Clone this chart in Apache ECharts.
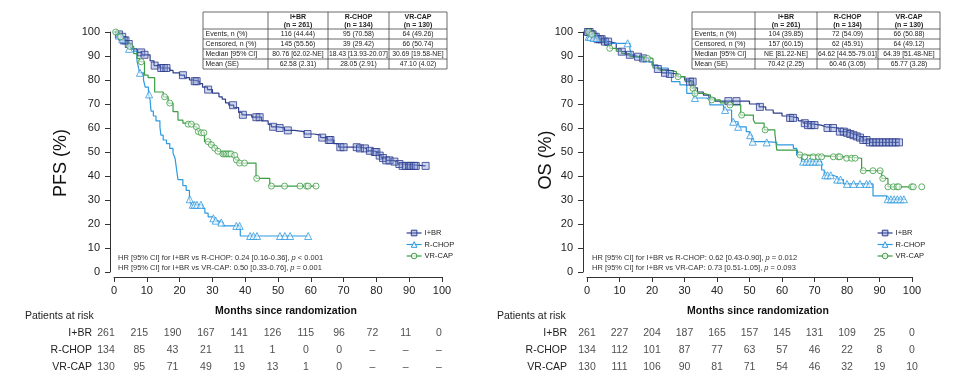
<!DOCTYPE html>
<html><head><meta charset="utf-8">
<script src="https://cdn.jsdelivr.net/npm/echarts@6/dist/echarts.min.js"></script>
<style>html,body{margin:0;padding:0;background:#fff}#c{width:973px;height:381px}</style>
</head><body><div id="c"></div>
<script>
// ---------------- DATA ----------------
const groups = ['I+BR', 'R-CHOP', 'VR-CAP'];
const riskMonths = [0, 10, 20, 30, 40, 50, 60, 70, 80, 90, 100];
const yTicks = [0, 10, 20, 30, 40, 50, 60, 70, 80, 90, 100];

// PFS Kaplan-Meier steps [month, survival %]
const pfsIBR = [[0,100],[1,99],[2,98],[3,96.5],[4,95],[5,93],[7,91.5],[8.5,90.5],[11,88],[12.2,86],[14,85],[17,84],[18,83],[20,82],[21.5,81],[23,80],[24,79.5],[26,78.5],[27,77],[28.5,76],[30,74.5],[32,73],[33,72],[34,70.5],[35,69.5],[36.5,68.5],[38,66.5],[39,65.5],[42,64.5],[45,63],[47,61.5],[48,60.5],[50,60],[52,59],[55,58.5],[58,57.5],[61,57],[63,56],[65,55],[67,53.5],[68.5,52],[75,51.5],[77,50.5],[79,50],[80.5,48.5],[81.5,47.5],[83,46.5],[85,46],[86.5,45],[88,44.2],[95,44.2]];
const pfsRCHOP = [[0,100],[1,98.5],[2,97],[3,95.5],[4.5,93],[6,92],[7,88],[7.5,85],[7.8,83],[9,80],[9.5,77],[10.5,74],[11,71.7],[11.3,67],[12,65],[12.8,63],[14,60.4],[14.3,57],[15,55],[16,53.5],[17,51.5],[18,49.5],[18.6,47.5],[19,43.5],[19.5,38.5],[21,36],[22,34],[23,30.3],[23.6,28],[27,26.5],[27.7,24.5],[28.7,23],[30.2,22.4],[30.7,21.4],[31.5,20.6],[33.2,19.2],[38.5,15],[59.2,15]];
const pfsVRCAP = [[0,100],[1.5,98],[3,96],[4.3,94],[6,91],[7,89],[7.8,87.6],[9.3,82],[10.4,81],[12.4,75],[15,73],[16.5,70.4],[18,66.8],[19.5,63.3],[21,62],[22.5,61.6],[24.5,60.5],[25.3,59.4],[25.6,58.5],[26.3,58],[27.6,54.3],[29.5,53],[30.5,51.6],[31.5,50.3],[33,49.2],[36.5,48.6],[37,46.7],[38,45.4],[43.3,39],[47.5,35.8],[61.6,35.8]];
// PFS censoring times (months)
const pfsIBRCens = [1.5,2.5,3,3.5,4.5,8.3,9.3,12.4,14.4,15.2,16,21,24.6,25.2,28.7,36.3,39.3,43.4,44.4,48.5,50.5,53,59,63.5,65.5,66,69,70,74,75,76.5,78,79.5,80,81,82,83,84,85.5,87,88,89,90,90.5,91.5,92,95];
const pfsRCHOPCens = [1.5,2.5,4.6,7.9,10.7,23.1,24,24.6,25.3,26.5,30.3,31,32.7,37.3,38.3,41.5,42.5,43.6,50.6,52.1,53.7,59.2];
const pfsVRCAPCens = [0.5,2,4.8,8.3,15.4,17,22.6,23.6,25.1,25.7,26.6,27.4,28.7,29.7,30.7,31.7,33.2,33.7,34.2,34.7,35.2,35.7,36.8,37.3,38.3,39.8,43.5,48,52,56.7,58.7,59.2,61.6];

// OS Kaplan-Meier steps [month, survival %]
const osIBR = [[0,100],[1,99],[2,98],[3,97],[5,96],[7,95.3],[9,93],[10.5,91.8],[12,90.5],[13.5,89.7],[16,89],[19,87.5],[20.3,86.2],[21.8,84.6],[23,83],[25,82.5],[28,81.4],[30,80],[31.5,79.3],[32.8,76.7],[34,75],[35.8,73.7],[37.5,72.5],[39.4,71.2],[50,70],[53,68.8],[55,67.5],[57.3,66.2],[60,65],[62,64.2],[65,63],[66.5,62],[67.5,61.2],[72,60.5],[73.5,60],[77.5,58.5],[80,58],[81,57.5],[82,57],[83,56.5],[84,56],[85,55],[87,54],[96,54]];
const osRCHOP = [[0,100],[0.5,98],[1.5,97.5],[4,96.7],[6,95.3],[13.2,93],[13.7,90.4],[15,89.5],[17.3,87.6],[20,86],[21.8,85],[25,83],[26,79.3],[28.6,78],[30.7,74.4],[33,72.5],[36.8,71.7],[37.8,69.6],[42,67.5],[44.5,62.6],[46.5,60.5],[49,58.5],[50,57],[50.7,54.3],[55,54],[58.4,53],[63.5,51.5],[64.5,48.8],[66,46],[72.2,42.5],[73,40.3],[75.7,39.7],[77,38.5],[78.9,36.7],[88,31.7],[92.2,30.3],[98,30.3]];
const osVRCAP = [[0,100],[1,99],[2,97.5],[4,96],[5.5,94.5],[7,93.2],[9,92],[10.7,91],[13.2,89.7],[16,89],[20.3,85],[22.5,84],[25.5,83.5],[27.5,81.4],[30.2,79.3],[32.3,76.5],[33,74.4],[35.8,73.7],[38,71.7],[41,70.5],[43.5,69.6],[47.3,65.4],[51.2,63.3],[51.7,62],[54.5,59.2],[57.8,57.8],[58.4,50.8],[64.8,48.8],[66,48],[79.5,47.4],[84.5,42.2],[90.7,39],[92.6,35.5],[103,35.5]];
const osIBRCens = [0.3,0.8,1.3,1.7,2.2,2.7,3.3,4,4.5,5.5,6.5,10.7,13.2,15.7,17.3,21.8,24,25.5,31.7,32.5,43.5,46,53.2,62.5,63.4,67,68,69,70,74,75.7,77.8,79,80,81,82,83,84,85,86,87,88,89,90,91,92,93,94,95,96];
const osRCHOPCens = [0.5,1,2,3,12.5,33.2,42.5,45,46.5,50.2,51,55.3,66.5,67.5,68.5,69.5,70.5,71.5,73.3,74,75,77,78,80,82,84,86,87,92.5,93.5,94.5,95.5,96.5,97.5];
const osVRCAPCens = [0.5,1.5,7,18.6,28,32.6,33.2,38.4,44,47.6,54.8,65.5,67,69.6,71.2,72.2,75.8,77.3,77.8,79.9,81.4,82.5,85,88,90.2,91,92.6,94.3,95.4,95.9,99.9,100.4,103];

// Patients at risk
const pfsRiskIBR = ['261','215','190','167','141','126','115','96','72','11','0'];
const pfsRiskRCHOP = ['134','85','43','21','11','1','0','0','–','–','–'];
const pfsRiskVRCAP = ['130','95','71','49','19','13','1','0','–','–','–'];
const osRiskIBR = ['261','227','204','187','165','157','145','131','109','25','0'];
const osRiskRCHOP = ['134','112','101','87','77','63','57','46','22','8','0'];
const osRiskVRCAP = ['130','111','106','90','81','71','54','46','32','19','10'];

// Summary tables
const tableHeaders = ['I+BR\n(n = 261)', 'R-CHOP\n(n = 134)', 'VR-CAP\n(n = 130)'];
const tableRowLabels = ['Events, n (%)', 'Censored, n (%)', 'Median [95% CI]', 'Mean (SE)'];
const pfsTable = [
  ['116 (44.44)', '95 (70.58)', '64 (49.26)'],
  ['145 (55.56)', '39 (29.42)', '66 (50.74)'],
  ['80.76 [62.02-NE]', '18.43 [13.93-20.07]', '30.69 [19.58-NE]'],
  ['62.58 (2.31)', '28.05 (2.91)', '47.10 (4.02)']
];
const osTable = [
  ['104 (39.85)', '72 (54.09)', '66 (50.88)'],
  ['157 (60.15)', '62 (45.91)', '64 (49.12)'],
  ['NE [81.22-NE]', '64.62 [44.55-79.01]', '64.39 [51.48-NE]'],
  ['70.42 (2.25)', '60.46 (3.05)', '65.77 (3.28)']
];
const pfsHR = [
  ['HR [95% CI] for I+BR vs R-CHOP: 0.24 [0.16-0.36], ', ' < 0.001'],
  ['HR [95% CI] for I+BR vs VR-CAP: 0.50 [0.33-0.76], ', ' = 0.001']
];
const osHR = [
  ['HR [95% CI] for I+BR vs R-CHOP: 0.62 [0.43-0.90], ', ' = 0.012'],
  ['HR [95% CI] for I+BR vs VR-CAP: 0.73 [0.51-1.05], ', ' = 0.093']
];

// ---------------- STYLE ----------------
const FONT = 'Liberation Sans, Arial, Helvetica, sans-serif';
const colors = ['#2e3d8d', '#2e9ae0', '#3c9c44'];
const fills = ['rgba(120,140,205,0.45)', 'rgba(255,255,255,0.7)', 'rgba(255,255,255,0.7)'];
const symbols = ['rect', 'triangle', 'circle'];
const symSizes = [7, 7, 6];

function onCurve(steps, times) {
  return times.map(t => {
    let y = steps[0][1];
    for (const p of steps) { if (p[0] <= t + 1e-9) y = p[1]; else break; }
    return [t, y];
  });
}

const panels = [
  {curves: [pfsIBR, pfsRCHOP, pfsVRCAP], cens: [pfsIBRCens, pfsRCHOPCens, pfsVRCAPCens],
   risk: [pfsRiskIBR, pfsRiskRCHOP, pfsRiskVRCAP]},
  {curves: [osIBR, osRCHOP, osVRCAP], cens: [osIBRCens, osRCHOPCens, osVRCAPCens],
   risk: [osRiskIBR, osRiskRCHOP, osRiskVRCAP]}
];

const series = [];
panels.forEach((pn, p) => {
  groups.forEach((g, i) => {
    series.push({
      name: g, type: 'line', step: 'end', xAxisIndex: p, yAxisIndex: p,
      data: pn.curves[i], showSymbol: false, symbol: symbols[i], symbolSize: symSizes[i],
      clip: false, z: 2, animation: false,
      lineStyle: {color: colors[i], width: 1.2},
      itemStyle: {color: fills[i], borderColor: colors[i], borderWidth: 1}
    });
    series.push({
      name: g + ' censored', type: 'scatter', xAxisIndex: p, yAxisIndex: p,
      data: onCurve(pn.curves[i], pn.cens[i]), symbol: symbols[i], symbolSize: symSizes[i],
      clip: false, z: 3, animation: false, silent: true,
      itemStyle: {color: fills[i], borderColor: colors[i], borderWidth: 1}
    });
    series.push({
      name: g + ' risk', type: 'scatter', xAxisIndex: p + 2, yAxisIndex: p + 2,
      data: riskMonths.map((m, k) => [m, g, pn.risk[i][k]]),
      symbolSize: 1, itemStyle: {color: 'rgba(0,0,0,0)'}, animation: false, silent: true,
      label: {show: true, position: 'inside', formatter: q => q.data[2],
        color: '#222', fontSize: 10.5, fontFamily: FONT}
    });
  });
});

function mainX(gi) {
  return {type: 'value', gridIndex: gi, min: 0, max: 100, interval: 10, offset: 5,
    axisLine: {show: true, onZero: false, lineStyle: {color: '#333', width: 1}},
    axisTick: {show: true, length: 5, lineStyle: {color: '#333'}},
    axisLabel: {fontSize: 11, color: '#222', fontFamily: FONT, margin: 8},
    splitLine: {show: false}};
}
function mainY(gi) {
  return {type: 'value', gridIndex: gi, min: 0, max: 100, interval: 10, offset: 4,
    axisLine: {show: true, onZero: false, lineStyle: {color: '#333', width: 1}},
    axisTick: {show: true, length: 5, lineStyle: {color: '#333'}},
    axisLabel: {fontSize: 11, color: '#222', fontFamily: FONT, margin: 10},
    splitLine: {show: false}};
}
function riskX(gi) {
  return {type: 'value', gridIndex: gi, min: 0, max: 100, show: false};
}
function riskY(gi, margin) {
  return {type: 'category', gridIndex: gi, data: groups, inverse: true,
    axisLine: {show: false}, axisTick: {show: false}, splitLine: {show: false},
    axisLabel: {fontSize: 10.5, color: '#222', fontFamily: FONT, margin: margin}};
}

// ---------- graphic: tables, titles, notes ----------
const graphic = [];
function txt(x, y, text, opts) {
  graphic.push(Object.assign({type: 'text', x: x, y: y, silent: true,
    style: Object.assign({text: text, fill: '#222', fontFamily: FONT, fontSize: 7,
      align: 'left', verticalAlign: 'middle'}, opts && opts.style || {})},
    opts && opts.el || {}));
}
function line(x1, y1, x2, y2) {
  graphic.push({type: 'line', silent: true, shape: {x1, y1, x2, y2},
    style: {stroke: '#444', lineWidth: 0.8}});
}
function drawTable(colX, rowY, data) {
  rowY.forEach(y => line(colX[0], y, colX[colX.length - 1], y));
  colX.forEach(x => line(x, rowY[0], x, rowY[rowY.length - 1]));
  tableHeaders.forEach((h, c) => {
    txt((colX[c + 1] + colX[c + 2]) / 2, (rowY[0] + rowY[1]) / 2 + 0.5, h,
      {style: {align: 'center', fontWeight: 'bold', fontSize: 7, lineHeight: 8.5}});
  });
  tableRowLabels.forEach((lab, r) => {
    const yc = (rowY[r + 1] + rowY[r + 2]) / 2 + 0.5;
    txt(colX[0] + 2.5, yc, lab, {style: {fontSize: 7}});
    data[r].forEach((v, c) => {
      txt((colX[c + 1] + colX[c + 2]) / 2, yc, v, {style: {align: 'center', fontSize: 6.8}});
    });
  });
}
drawTable([203, 268, 328, 389, 447], [12, 29, 39, 49, 59, 69], pfsTable);
drawTable([692, 755, 817, 878, 940], [12, 29, 39, 49, 59, 69], osTable);

function hrText(x, lines) {
  lines.forEach((l, k) => {
    txt(x, 258 + k * 9.5, l[0] + '{i|p}' + l[1], {style: {fontSize: 7.5, fill: '#333',
      rich: {i: {fontStyle: 'italic', fontSize: 7.5, fontFamily: FONT, fill: '#333'}}}});
  });
}
hrText(118, pfsHR);
hrText(592, osHR);

txt(61, 163, 'PFS (%)', {style: {fontSize: 18, align: 'center', fill: '#111'}, el: {rotation: Math.PI / 2}});
txt(546, 160, 'OS (%)', {style: {fontSize: 18, align: 'center', fill: '#111'}, el: {rotation: Math.PI / 2}});
txt(286, 311, 'Months since randomization', {style: {fontSize: 10.5, fontWeight: 'bold', align: 'center', fill: '#111'}});
txt(758, 311, 'Months since randomization', {style: {fontSize: 10.5, fontWeight: 'bold', align: 'center', fill: '#111'}});
txt(25, 316, 'Patients at risk', {style: {fontSize: 10.5}});
txt(497, 316, 'Patients at risk', {style: {fontSize: 10.5}});

function legend(left) {
  return {left: left, top: 224, orient: 'vertical', itemWidth: 15, itemHeight: 7, itemGap: 3.5,
    selectedMode: false,
    data: groups.map((g, i) => ({name: g,
      itemStyle: {color: fills[i], borderColor: colors[i], borderWidth: 1},
      lineStyle: {color: colors[i], width: 1.2}})),
    textStyle: {fontSize: 7.5, color: '#222', fontFamily: FONT, padding: [0, 0, 0, -2]}};
}

const chart = echarts.init(document.getElementById('c'), null, {renderer: 'canvas'});
chart.setOption({
  backgroundColor: '#fff',
  animation: false,
  grid: [
    {left: 114, top: 32, width: 328, height: 240},
    {left: 587, top: 32, width: 325, height: 240},
    {left: 106, top: 325, width: 333, height: 51},
    {left: 587, top: 325, width: 325, height: 51}
  ],
  xAxis: [mainX(0), mainX(1), riskX(2), riskX(3)],
  yAxis: [mainY(0), mainY(1), riskY(2, 14), riskY(3, 20)],
  legend: [legend(401), legend(872)],
  series: series,
  graphic: graphic
});
</script></body></html>
